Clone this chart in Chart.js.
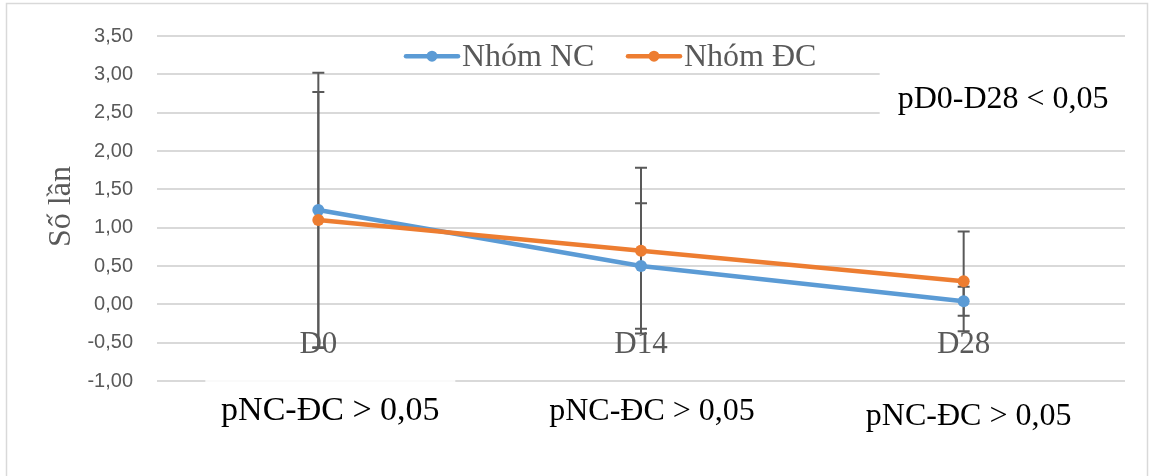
<!DOCTYPE html>
<html>
<head>
<meta charset="utf-8">
<script src="https://cdn.jsdelivr.net/npm/chart.js@4/dist/chart.umd.min.js"></script>
<style>
html,body{margin:0;padding:0;background:#fff;}
#wrap{position:relative;width:1153px;height:476px;}
</style>
</head>
<body>
<div id="wrap"><canvas id="c" width="1153" height="476"></canvas></div>
<script>
const categories = ['D0', 'D14', 'D28'];
const seriesNames = ['Nhóm NC', 'Nhóm ĐC'];
const nhomNC = [1.23, 0.50, 0.04];
const nhomDC = [1.10, 0.70, 0.30];
const sdNC = [1.79, 0.82, 0.19];
const sdDC = [1.67, 1.08, 0.65];
const yMin = -1.0, yMax = 3.5, yStep = 0.5;
const yTitle = 'Số lần';
const pGroupLabels = ['pNC-ĐC > 0,05', 'pNC-ĐC > 0,05', 'pNC-ĐC > 0,05'];
const pTimeLabel = 'pD0-D28 < 0,05';

const BLUE = '#5b9bd5', ORANGE = '#ed7d31', GREY = '#595959';
const SERIF = '"Liberation Serif", "Times New Roman", serif';

const errorBars = {
  id: 'errorBars',
  beforeDatasetsDraw(chart) {
    const ctx = chart.ctx, y = chart.scales.y;
    const sds = [sdNC, sdDC];
    ctx.save();
    ctx.strokeStyle = GREY;
    ctx.lineWidth = 2;
    chart.data.datasets.forEach((ds, di) => {
      const meta = chart.getDatasetMeta(di);
      meta.data.forEach((pt, i) => {
        const v = ds.data[i], sd = sds[di][i];
        const x = pt.x, yt = y.getPixelForValue(v + sd), yb = y.getPixelForValue(v - sd);
        ctx.beginPath();
        ctx.moveTo(x, yt); ctx.lineTo(x, yb);
        ctx.moveTo(x - 6, yt); ctx.lineTo(x + 6, yt);
        ctx.moveTo(x - 6, yb); ctx.lineTo(x + 6, yb);
        ctx.stroke();
      });
    });
    ctx.restore();
  }
};

const decor = {
  id: 'decor',
  beforeDraw(chart) {
    const ctx = chart.ctx;
    ctx.save();
    ctx.fillStyle = '#fff';
    ctx.fillRect(0, 0, chart.width, chart.height);
    ctx.strokeStyle = '#d9d9d9';
    ctx.lineWidth = 1.5;
    ctx.strokeRect(6.5, 3.5, 1141, 490);
    ctx.restore();
  },
  afterDatasetsDraw(chart) {
    const ctx = chart.ctx, x = chart.scales.x, y = chart.scales.y, ca = chart.chartArea;
    ctx.save();
    ctx.fillStyle = 'rgba(255,255,255,0.85)';
    ctx.fillRect(x.getPixelForValue(0) - 113, ca.bottom - 3, 250, 60);
    ctx.fillStyle = '#fff';
    ctx.fillRect(x.getPixelForValue(2) - 84, y.getPixelForValue(3.05), 250, y.getPixelForValue(2.4) - y.getPixelForValue(3.05));
    ctx.fillStyle = GREY;
    ctx.font = '31px ' + SERIF;
    ctx.textAlign = 'center';
    ctx.textBaseline = 'alphabetic';
    categories.forEach((c, i) => {
      ctx.fillText(c, x.getPixelForValue(i), y.getPixelForValue(0) + 49);
    });
    ctx.save();
    ctx.translate(70, (ca.top + ca.bottom) / 2 - 2);
    ctx.rotate(-Math.PI / 2);
    ctx.font = '32px ' + SERIF;
    ctx.fillText(yTitle, 0, 0);
    ctx.restore();
    ctx.fillStyle = '#000';
    const offs = [[12, 420, 34], [11, 420, 32], [5, 425, 32]];
    pGroupLabels.forEach((t, i) => {
      ctx.font = offs[i][2] + 'px ' + SERIF;
      ctx.fillText(t, x.getPixelForValue(i) + offs[i][0], offs[i][1]);
    });
    ctx.textAlign = 'left';
    ctx.font = '32px ' + SERIF;
    ctx.fillText(pTimeLabel, x.getPixelForValue(2) - 66, y.getPixelForValue(2.5) - 5);
    const colors = [BLUE, ORANGE];
    const lx = [404, 626];
    const ly = (y.getPixelForValue(3.5) + y.getPixelForValue(3.0)) / 2 + 1;
    ctx.font = '32px ' + SERIF;
    seriesNames.forEach((n, i) => {
      ctx.strokeStyle = colors[i];
      ctx.lineWidth = 4.5;
      ctx.lineCap = 'round';
      ctx.beginPath();
      ctx.moveTo(lx[i] + 2, ly); ctx.lineTo(lx[i] + 54, ly);
      ctx.stroke();
      ctx.fillStyle = colors[i];
      ctx.beginPath();
      ctx.arc(lx[i] + 28, ly, 5.5, 0, Math.PI * 2);
      ctx.fill();
      ctx.fillStyle = GREY;
      ctx.textBaseline = 'middle';
      ctx.fillText(n, lx[i] + 58, ly + 1);
    });
    ctx.restore();
  }
};

new Chart(document.getElementById('c'), {
  type: 'line',
  data: {
    labels: categories,
    datasets: [
      { label: seriesNames[0], data: nhomNC, borderColor: BLUE, backgroundColor: BLUE, borderWidth: 4.5, pointRadius: 6, pointHoverRadius: 6, pointBorderWidth: 0, tension: 0, order: 2 },
      { label: seriesNames[1], data: nhomDC, borderColor: ORANGE, backgroundColor: ORANGE, borderWidth: 4.5, pointRadius: 6, pointHoverRadius: 6, pointBorderWidth: 0, tension: 0, order: 1 }
    ]
  },
  options: {
    responsive: false,
    animation: false,
    events: [],
    layout: { padding: { left: 0, right: 28, top: 32, bottom: 95 } },
    plugins: { legend: { display: false }, tooltip: { enabled: false }, title: { display: false } },
    scales: {
      x: { type: 'category', offset: true, display: false },
      y: {
        min: yMin, max: yMax,
        afterFit(s) { s.width = 157; },
        afterBuildTicks(s) {
          const t = [];
          for (let v = yMin; v <= yMax + 1e-9; v += yStep) t.push({ value: Math.round(v * 100) / 100 });
          s.ticks = t;
        },
        border: { display: false },
        grid: { color: '#d9d9d9', lineWidth: 2, drawTicks: false },
        ticks: {
          color: GREY,
          font: { family: '"Liberation Sans", Arial, sans-serif', size: 20 },
          padding: 24,
          callback: v => v.toFixed(2).replace('.', ',')
        }
      }
    }
  },
  plugins: [errorBars, decor]
});
</script>
</body>
</html>
